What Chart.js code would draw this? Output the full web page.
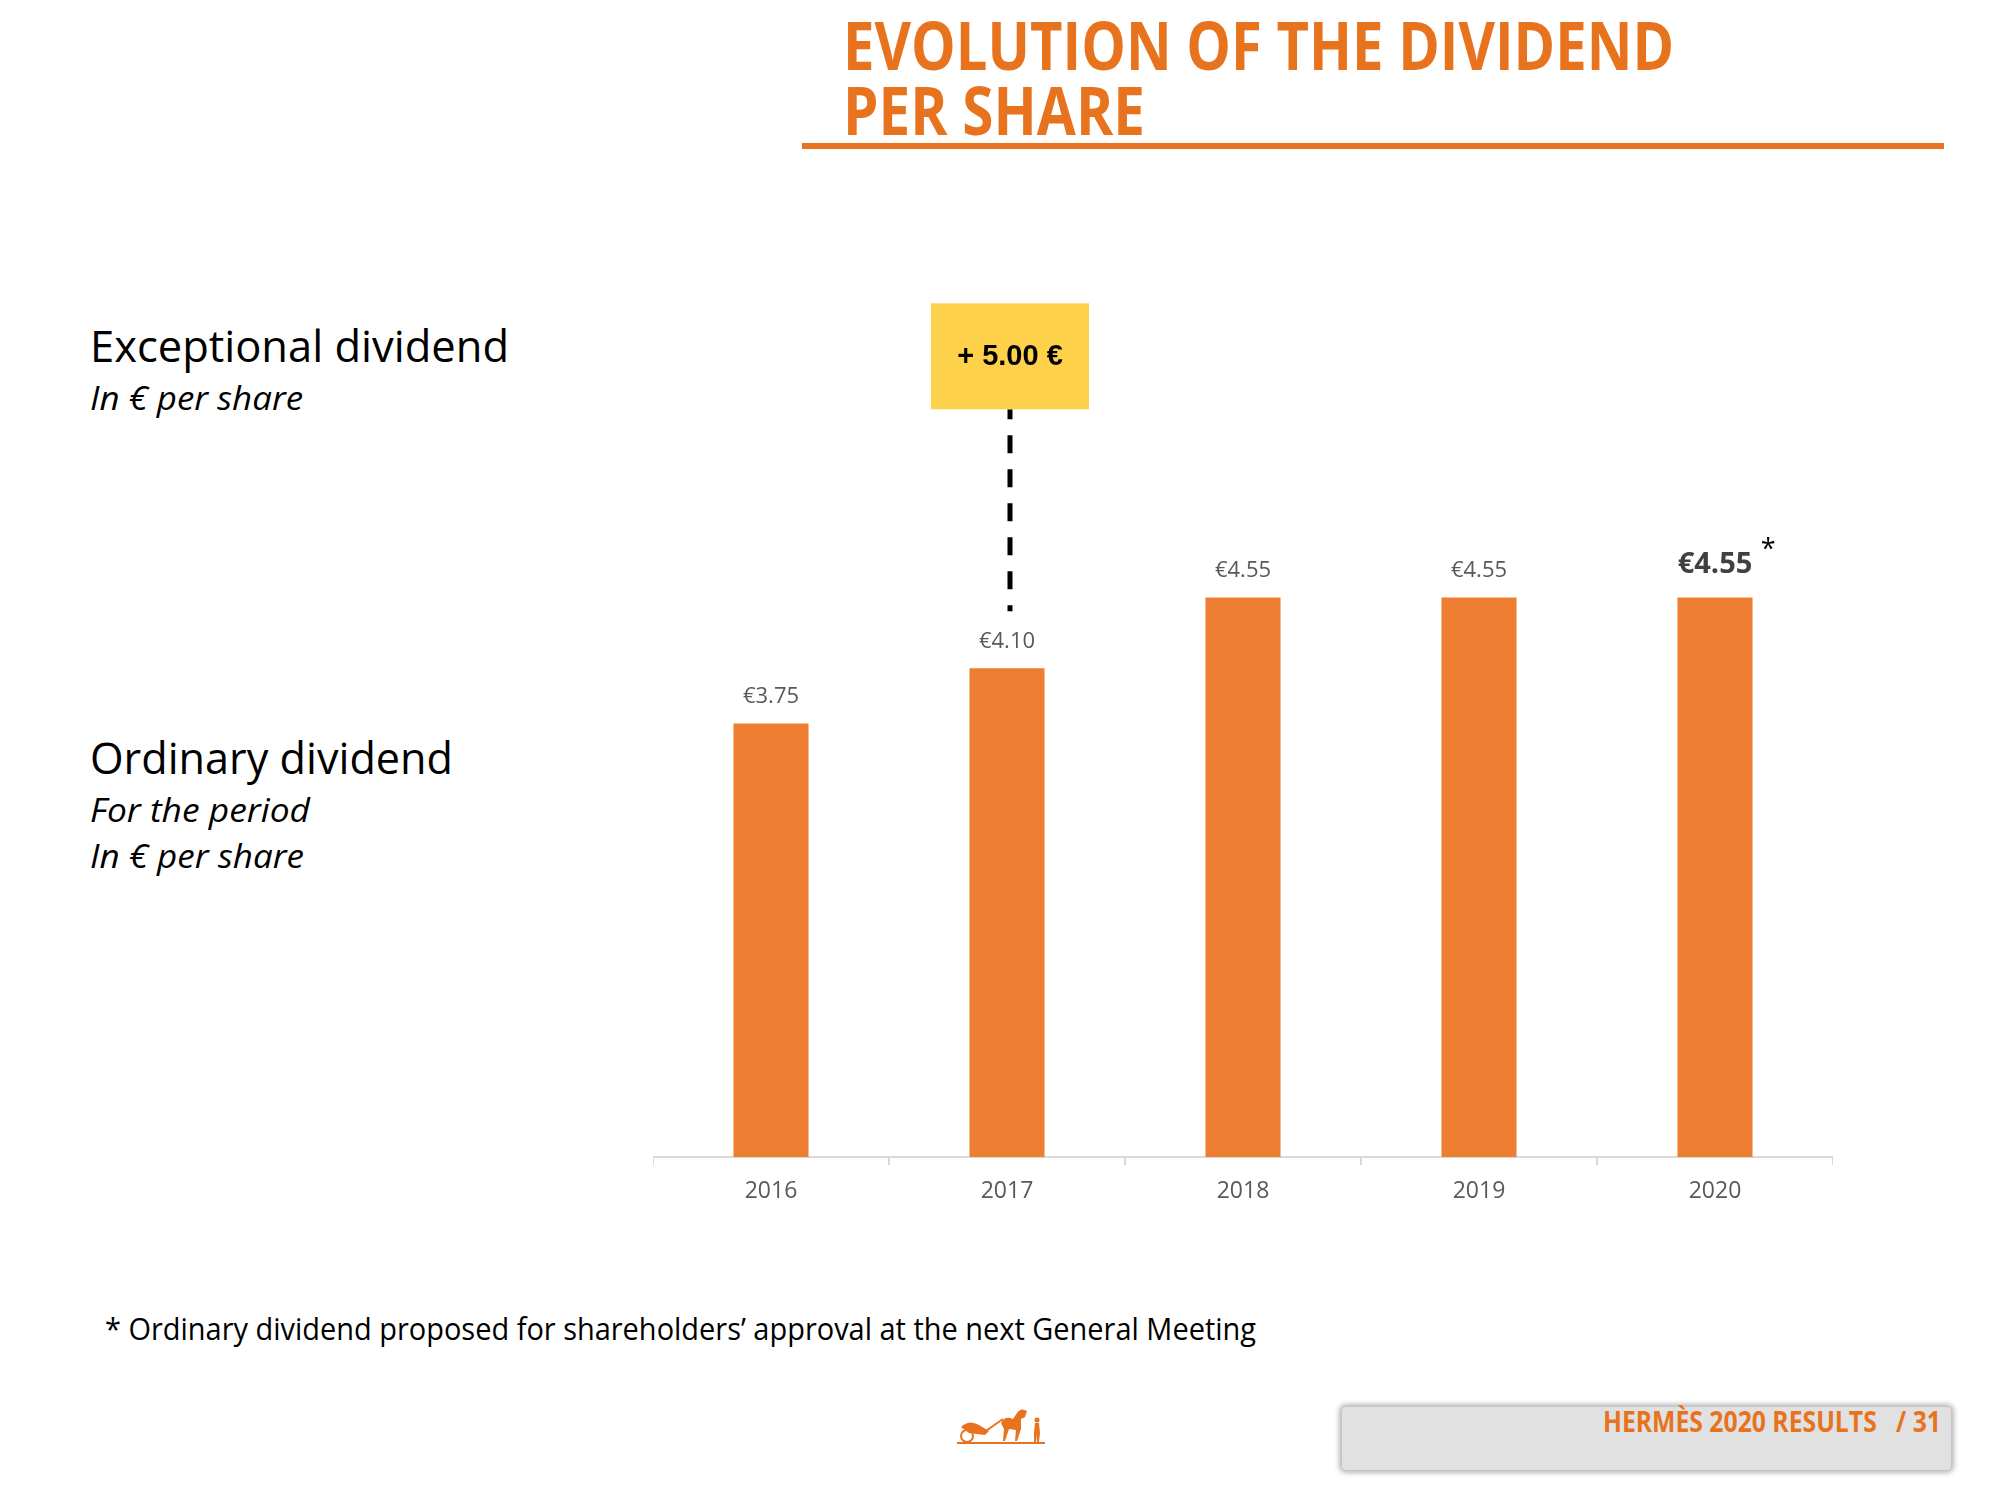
<!DOCTYPE html>
<html>
<head>
<meta charset="utf-8">
<script src="https://cdn.jsdelivr.net/npm/chart.js@4.4.1/dist/chart.umd.min.js"></script>
<style>
  html, body { margin: 0; padding: 0; background: #fff; }
  body { width: 2000px; height: 1500px; position: relative; overflow: hidden; font-family: 'Open Sans', sans-serif; }
  .t { position: absolute; white-space: pre; line-height: 1; transform-origin: left top; }
  #rule { position: absolute; left: 802px; top: 143px; width: 1142px; height: 6px; background: #E8731E; }
  #wrap { position: absolute; left: 653px; top: 290px; width: 1180px; height: 947px; }
  #pagebox { position: absolute; left: 1342px; top: 1407px; width: 609px; height: 63px; background: #E1E1E1;
    border-radius: 4px; box-shadow: 0 0 5px 3px rgba(0,0,0,0.28); }
  #logo { position: absolute; left: 955px; top: 1405px; }
</style>
</head>
<body>
<div id="rule"></div>
<div id="wrap"><canvas id="chart"></canvas></div>
<div id="pagebox"></div>
<svg id="logo" width="92" height="42" viewBox="0 0 92 42">
  <g fill="#E8731E" stroke="#E8731E">
    <rect x="2" y="37" width="88" height="2" stroke="none"/>
    <circle cx="12" cy="31" r="6" fill="none" stroke-width="2"/>
    <path d="M6 22 Q14 14 24 20 L34 26 L30 30 L14 28 Z" stroke="none"/>
    <path d="M28 28 L48 14" fill="none" stroke-width="2"/>
    <path d="M46 18 Q50 10 58 14 L62 8 Q66 2 72 6 L70 12 L66 14 L66 24 L62 36 L60 36 L61 25 L54 24 L50 36 L48 36 L49 24 Z" stroke="none"/>
    <circle cx="82" cy="15" r="2.5" stroke="none"/>
    <path d="M80 18 L84 18 L85 28 L84 37 L82 37 L82 29 L81 37 L79 37 L79 28 Z" stroke="none"/>
  </g>
</svg>
<script>
  const years = ['2016', '2017', '2018', '2019', '2020'];
  const ordinary = [3.75, 4.10, 4.55, 4.55, 4.55];
  const exceptional = [null, 5.00, null, null, null];
  const proposed = [false, false, false, false, true];

  const ORANGE = '#E8731E';

  // page texts: x, baseline, font size, target width
  const texts = [
    { s: 'EVOLUTION OF THE DIVIDEND', x: 843, b: 70, size: 66, w: 831, weight: 700, color: ORANGE },
    { s: 'PER SHARE', x: 843, b: 135, size: 66, w: 302, weight: 700, color: ORANGE },
    { s: 'Exceptional dividend', x: 90, b: 362, size: 44, w: 419 },
    { s: 'In € per share', x: 90, b: 410, size: 32, w: 213, italic: true },
    { s: 'Ordinary dividend', x: 90, b: 774, size: 44, w: 363 },
    { s: 'For the period', x: 90, b: 822, size: 32, w: 220, italic: true },
    { s: 'In € per share', x: 90, b: 868, size: 32, w: 214, italic: true },
    { s: '* Ordinary dividend proposed for shareholders\u2019 approval at the next General Meeting', x: 105, b: 1341, size: 31, w: 1151 },
    { s: 'HERMÈS 2020 RESULTS   / 31', right: 1941, b: 1432, size: 28, w: 338, weight: 700, color: ORANGE }
  ];

  function placeTexts() {
    texts.forEach(t => {
      const el = document.createElement('div');
      el.className = 't';
      el.textContent = t.s;
      el.style.fontSize = t.size + 'px';
      el.style.fontWeight = t.weight || 400;
      el.style.fontStyle = t.italic ? 'italic' : 'normal';
      el.style.color = t.color || '#000';
      el.style.top = (t.b - 0.888 * t.size) + 'px';
      document.body.appendChild(el);
      const w = el.getBoundingClientRect().width;
      el.style.transform = `scaleX(${t.w / w})`;
      el.style.left = (t.right !== undefined ? t.right - t.w : t.x) + 'px';
    });
  }

  const valueLabels = {
    id: 'valueLabels',
    afterDatasetsDraw(chart) {
      const ctx = chart.ctx;
      const meta = chart.getDatasetMeta(0);
      ctx.save();
      ctx.textAlign = 'center';
      ctx.textBaseline = 'middle';
      meta.data.forEach((bar, i) => {
        const txt = '€' + ordinary[i].toFixed(2);
        if (proposed[i]) {
          ctx.font = "700 29px 'Open Sans'";
          ctx.fillStyle = '#404040';
          ctx.fillText(txt, bar.x, bar.y - 33);
          const w = ctx.measureText(txt).width;
          ctx.font = "400 27px 'Open Sans'";
          ctx.fillStyle = '#000';
          ctx.fillText('*', bar.x + w / 2 + 16, bar.y - 47);
        } else {
          ctx.font = "400 22px 'Open Sans'";
          ctx.fillStyle = '#595959';
          ctx.fillText(txt, bar.x, bar.y - 27);
        }
      });
      ctx.restore();
    }
  };

  const exceptionalBox = {
    id: 'exceptionalBox',
    afterDatasetsDraw(chart) {
      const ctx = chart.ctx;
      const meta = chart.getDatasetMeta(0);
      ctx.save();
      meta.data.forEach((bar, i) => {
        if (exceptional[i] == null) return;
        const x = bar.x + 3, top = bar.y;
        ctx.strokeStyle = '#000';
        ctx.lineWidth = 5;
        ctx.setLineDash([18, 16]);
        ctx.lineDashOffset = 8;
        ctx.beginPath();
        ctx.moveTo(x, top - 259);
        ctx.lineTo(x, top - 57);
        ctx.stroke();
        ctx.setLineDash([]);
        ctx.fillStyle = '#FDD14A';
        ctx.fillRect(x - 79, top - 365, 158, 106);
        ctx.fillStyle = '#000';
        ctx.font = "700 29px 'Liberation Sans', Arial";
        ctx.textAlign = 'center';
        ctx.textBaseline = 'middle';
        ctx.fillText('+ ' + exceptional[i].toFixed(2) + ' €', x, top - 311);
      });
      ctx.restore();
    }
  };

  function drawChart() {
    new Chart(document.getElementById('chart'), {
      type: 'bar',
      data: {
        labels: years,
        datasets: [{
          label: 'Ordinary dividend',
          data: ordinary,
          backgroundColor: '#ED7D31',
          barPercentage: 0.318,
          categoryPercentage: 1
        }]
      },
      options: {
        responsive: true,
        maintainAspectRatio: false,
        animation: false,
        layout: { padding: 0 },
        plugins: { legend: { display: false }, tooltip: { enabled: false } },
        scales: {
          x: {
            offset: true,
            grid: { display: true, offset: true, drawOnChartArea: false, drawTicks: true, tickLength: 8, color: '#D9D9D9', lineWidth: 2 },
            border: { display: true, color: '#D9D9D9', width: 2 },
            ticks: { color: '#595959', font: { family: 'Open Sans', size: 23 }, padding: 13 },
            afterFit(s) { s.height = 80; }
          },
          y: { display: false, min: 1, max: 6.5 }
        }
      },
      plugins: [valueLabels, exceptionalBox]
    });
  }

  document.fonts.ready.then(() => {
    placeTexts();
    drawChart();
  });
</script>
</body>
</html>
